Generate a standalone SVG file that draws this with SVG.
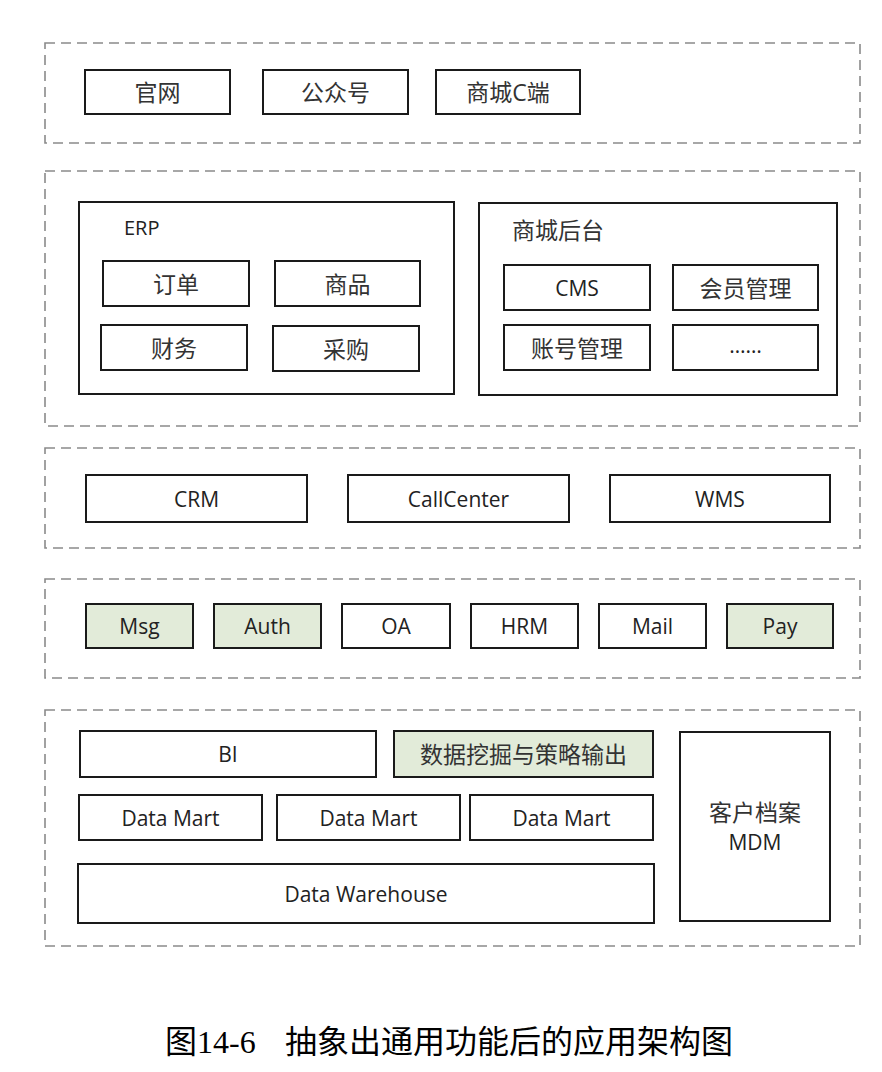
<svg xmlns="http://www.w3.org/2000/svg" width="882" height="1072" viewBox="0 0 882 1072">
<style>
.layer{fill:none;stroke:#8a8a8a;stroke-width:1.6;stroke-dasharray:10 6}
.box{fill:#fff;stroke:#1a1a1a;stroke-width:2}
.grn{fill:#e2ebd9;stroke:#1a1a1a;stroke-width:2}
.t{font-family:"Open Sans","Noto Sans CJK SC",sans-serif;font-size:21px;fill:#222;text-anchor:middle;dominant-baseline:central}
.c{font-size:23px;fill:#333}
.lbl{font-family:"Open Sans","Noto Sans CJK SC",sans-serif;font-size:20px;fill:#222}
.lc{font-size:23px;fill:#333}
.cap{font-family:"Liberation Serif","Noto Sans CJK SC",serif;font-size:32px;fill:#000}
</style>
<rect width="882" height="1072" fill="#fff"/>
<g id="layers">
<rect class="layer" x="45" y="43" width="815" height="100"/>
<rect class="layer" x="45" y="171" width="815" height="255"/>
<rect class="layer" x="45" y="448" width="815" height="100"/>
<rect class="layer" x="45" y="579" width="815" height="99"/>
<rect class="layer" x="45" y="710" width="815" height="236"/>
</g>
<g id="connectors"></g>
<g id="guanwang"><rect class="box" x="85" y="70" width="145" height="44"/><text class="t c" x="157.5" y="92">官网</text></g>
<g id="gongzhonghao"><rect class="box" x="263" y="70" width="145" height="44"/><text class="t c" x="335.5" y="92">公众号</text></g>
<g id="shangchengC"><rect class="box" x="436" y="70" width="144" height="44"/><text class="t c" x="508" y="92">商城C端</text></g>

<g id="erp"><rect class="box" x="79" y="202" width="375" height="192"/><text class="lbl" x="124" y="235">ERP</text></g>
<g id="dingdan"><rect class="box" x="103" y="261" width="146" height="45"/><text class="t c" x="176" y="283.5">订单</text></g>
<g id="shangpin"><rect class="box" x="275" y="261" width="145" height="45"/><text class="t c" x="347.5" y="283.5">商品</text></g>
<g id="caiwu"><rect class="box" x="101" y="325" width="146" height="45"/><text class="t c" x="174" y="347.5">财务</text></g>
<g id="caigou"><rect class="box" x="273" y="326" width="146" height="45"/><text class="t c" x="346" y="348.5">采购</text></g>

<g id="houtai"><rect class="box" x="479" y="203" width="358" height="192"/><text class="lbl lc" x="512" y="239">商城后台</text></g>
<g id="cms"><rect class="box" x="504" y="265" width="146" height="45"/><text class="t" x="577" y="287.5">CMS</text></g>
<g id="huiyuan"><rect class="box" x="673" y="265" width="145" height="45"/><text class="t c" x="745.5" y="287.5">会员管理</text></g>
<g id="zhanghao"><rect class="box" x="504" y="325" width="146" height="45"/><text class="t c" x="577" y="347.5">账号管理</text></g>
<g id="more"><rect class="box" x="673" y="325" width="145" height="45"/><text class="t" x="745.5" y="345">……</text></g>

<g id="crm"><rect class="box" x="86" y="475" width="221" height="47"/><text class="t" x="196.5" y="498.5">CRM</text></g>
<g id="callcenter"><rect class="box" x="348" y="475" width="221" height="47"/><text class="t" x="458.5" y="498.5">CallCenter</text></g>
<g id="wms"><rect class="box" x="610" y="475" width="220" height="47"/><text class="t" x="720" y="498.5">WMS</text></g>

<g id="msg"><rect class="grn" x="86" y="604" width="107" height="44"/><text class="t" x="139.5" y="626">Msg</text></g>
<g id="auth"><rect class="grn" x="214" y="604" width="107" height="44"/><text class="t" x="267.5" y="626">Auth</text></g>
<g id="oa"><rect class="box" x="342" y="604" width="108" height="44"/><text class="t" x="396" y="626">OA</text></g>
<g id="hrm"><rect class="box" x="471" y="604" width="107" height="44"/><text class="t" x="524.5" y="626">HRM</text></g>
<g id="mail"><rect class="box" x="599" y="604" width="107" height="44"/><text class="t" x="652.5" y="626">Mail</text></g>
<g id="pay"><rect class="grn" x="727" y="604" width="106" height="44"/><text class="t" x="780" y="626">Pay</text></g>

<g id="bi"><rect class="box" x="80" y="731" width="296" height="46"/><text class="t" x="228" y="754">BI</text></g>
<g id="mining"><rect class="grn" x="394" y="731" width="259" height="46"/><text class="t c" x="523.5" y="754">数据挖掘与策略输出</text></g>
<g id="dm1"><rect class="box" x="79" y="795" width="183" height="45"/><text class="t" x="170.5" y="817.5">Data Mart</text></g>
<g id="dm2"><rect class="box" x="277" y="795" width="183" height="45"/><text class="t" x="368.5" y="817.5">Data Mart</text></g>
<g id="dm3"><rect class="box" x="470" y="795" width="183" height="45"/><text class="t" x="561.5" y="817.5">Data Mart</text></g>
<g id="dw"><rect class="box" x="78" y="864" width="576" height="59"/><text class="t" x="366" y="893.5">Data Warehouse</text></g>
<g id="mdm"><rect class="box" x="680" y="732" width="150" height="189"/><text class="t c" x="755" y="812">客户档案</text><text class="t" x="755" y="842">MDM</text></g>

<g id="caption"><text class="cap" x="165" y="1053">图14-6</text><text class="cap" x="285" y="1053">抽象出通用功能后的应用架构图</text></g>
</svg>
